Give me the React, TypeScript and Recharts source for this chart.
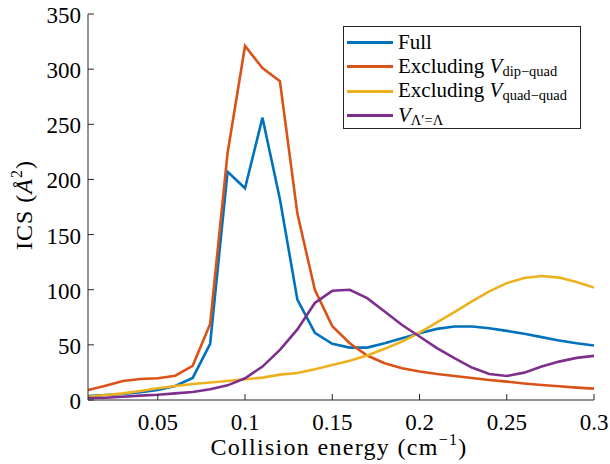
import { LineChart, Line, XAxis, YAxis, Legend } from 'recharts'

const energy = [0.01, 0.02, 0.03, 0.04, 0.05, 0.06, 0.07, 0.08, 0.09, 0.1, 0.11, 0.12, 0.13, 0.14, 0.15, 0.16, 0.17, 0.18, 0.19, 0.2, 0.21, 0.22, 0.23, 0.24, 0.25, 0.26, 0.27, 0.28, 0.29, 0.3]
const full = [3.6, 4.5, 5.5, 7, 9, 12.7, 20, 51, 207, 192, 256, 182, 91, 61, 51, 47.5, 47.5, 51.5, 56, 60.6, 64.5, 66.7, 66.7, 65, 62.7, 60, 57, 54, 51.5, 49.4]
const noDipQuad = [9, 13, 17.3, 19, 19.7, 22, 31, 69, 224, 321, 301, 289, 169, 100, 67, 51.5, 40.3, 33.3, 28.8, 25.8, 23.6, 21.8, 20, 18.2, 16.7, 15, 13.6, 12.4, 11.2, 10.3]
const noQuadQuad = [3, 4.5, 6, 8.2, 10.6, 12.7, 14.5, 15.8, 17.3, 18.8, 20.3, 23, 24.5, 27.9, 31.8, 35.5, 40.3, 46.4, 53, 61, 70.3, 79.7, 89.4, 98.5, 106, 110.6, 112.4, 111, 107, 102]
const lambdaEq = [1.8, 2.1, 3, 4, 4.8, 6, 7.3, 9.7, 13.3, 19.7, 30.3, 45.5, 64, 88, 99, 100, 92.4, 80.3, 68, 57.6, 47, 37.9, 29.4, 23.6, 21.8, 24.8, 30.3, 34.8, 38.2, 40]

const xTicks = [0.05, 0.1, 0.15, 0.2, 0.25, 0.3]
const yTicks = [0, 50, 100, 150, 200, 250, 300, 350]

const seriesOrder = ['full', 'noDipQuad', 'noQuadQuad', 'lambdaEq']

const data = energy.map((e, i) => ({
    energy: e,
    full: full[i],
    noDipQuad: noDipQuad[i],
    noQuadQuad: noQuadQuad[i],
    lambdaEq: lambdaEq[i],
}))

const FONT = '"Liberation Serif", "DejaVu Serif", serif'
const AXIS = '#262626'
const TICK_LEN = 6

// plot box: left 88, right 594, top 14, bottom 400
const W = 610
const H = 464
const LEFT = 88
const TOP = 14
const RIGHT_M = 16
const BOTTOM_H = 64

function BottomTick({ x, y, payload }: any) {
    return (
        <g>
            <line x1={x} y1={y} x2={x} y2={y - TICK_LEN} stroke={AXIS} />
            <text x={x} y={y + 30} textAnchor="middle" fontFamily={FONT} fontSize={23} fill="#000">{String(payload.value)}</text>
        </g>
    )
}

function TopTick({ x, y }: any) {
    return <line x1={x} y1={y} x2={x} y2={y + TICK_LEN} stroke={AXIS} />
}

function LeftTick({ x, y, payload }: any) {
    return (
        <g>
            <line x1={x} y1={y} x2={x + TICK_LEN} y2={y} stroke={AXIS} />
            <text x={x - 7} y={y + 9} textAnchor="end" fontFamily={FONT} fontSize={23} fill="#000">{String(payload.value)}</text>
        </g>
    )
}

function RightTick({ x, y }: any) {
    return <line x1={x} y1={y} x2={x - TICK_LEN} y2={y} stroke={AXIS} />
}

const xTitle = () => (
    <text x={LEFT + (W - RIGHT_M - LEFT) / 2 - 2} y={455} textAnchor="middle" fontFamily={FONT} fontSize={24} letterSpacing={1.3} fill="#000">
        Collision energy (cm<tspan dy={-10} fontSize={16}>−1</tspan><tspan dy={10}>)</tspan>
    </text>
)

const yTitle = () => {
    const cy = 205
    return (
        <text x={32} y={cy} transform={`rotate(-90 32 ${cy})`} textAnchor="middle" fontFamily={FONT} fontSize={24} letterSpacing={1} fill="#000">
            ICS (<tspan fontStyle="italic">Å</tspan><tspan dy={-10} fontSize={16}>2</tspan><tspan dy={10}>)</tspan>
        </text>
    )
}

const SUB = { fontSize: 14.5, verticalAlign: -3, lineHeight: 1 }

const LABELS: Record<string, any> = {
    full: 'Full',
    noDipQuad: <>Excluding <i>V</i><sub style={SUB}>dip−quad</sub></>,
    noQuadQuad: <>Excluding <i>V</i><sub style={SUB}>quad−quad</sub></>,
    lambdaEq: <><i>V</i><sub style={SUB}>Λ′=Λ</sub></>,
}

function LegendBox({ payload }: any) {
    const items = [...(payload || [])].sort((a: any, b: any) => seriesOrder.indexOf(a.dataKey) - seriesOrder.indexOf(b.dataKey))
    return (
        <div>
            {items.map((p: any) => (
                <div key={p.dataKey} style={{ display: 'flex', alignItems: 'center', height: 24.5, whiteSpace: 'nowrap', overflow: 'visible' }}>
                    <div style={{ width: 46, height: 2.6, background: p.color, marginRight: 5, flexShrink: 0 }} />
                    <span style={{ lineHeight: 1, fontFamily: FONT, fontSize: 21, color: '#000' }}>{LABELS[p.dataKey]}</span>
                </div>
            ))}
        </div>
    )
}

export default function App() {
    return (
        <div style={{ position: 'absolute', left: 0, top: 0, width: W, height: H, background: '#fff' }}>
            <LineChart width={W} height={H} data={data} margin={{ top: TOP, right: RIGHT_M, bottom: 0, left: 0 }}>
                <XAxis
                    dataKey="energy"
                    type="number"
                    domain={[0.01, 0.3]}
                    ticks={xTicks}
                    allowDataOverflow
                    height={BOTTOM_H}
                    tickSize={0}
                    tickMargin={0}
                    tickLine={false}
                    tick={BottomTick}
                    axisLine={{ stroke: AXIS }}
                    label={xTitle}
                />
                <XAxis
                    xAxisId="top"
                    orientation="top"
                    dataKey="energy"
                    type="number"
                    domain={[0.01, 0.3]}
                    ticks={xTicks}
                    allowDataOverflow
                    height={0}
                    tickSize={0}
                    tickMargin={0}
                    tickLine={false}
                    tick={TopTick}
                    axisLine={{ stroke: AXIS }}
                />
                <YAxis
                    type="number"
                    domain={[0, 350]}
                    ticks={yTicks}
                    allowDataOverflow
                    width={LEFT}
                    tickSize={0}
                    tickMargin={0}
                    tickLine={false}
                    tick={LeftTick}
                    axisLine={{ stroke: AXIS }}
                    label={yTitle}
                />
                <YAxis
                    yAxisId="right"
                    orientation="right"
                    type="number"
                    domain={[0, 350]}
                    ticks={yTicks}
                    allowDataOverflow
                    width={0}
                    tickSize={0}
                    tickMargin={0}
                    tickLine={false}
                    tick={RightTick}
                    axisLine={{ stroke: AXIS }}
                />
                <Legend
                    layout="vertical"
                    verticalAlign="middle"
                    align="center"
                    content={LegendBox}
                    wrapperStyle={{
                        left: 343,
                        top: 26,
                        width: 238,
                        height: 103,
                        boxSizing: 'border-box',
                        border: `1px solid ${AXIS}`,
                        background: '#fff',
                        padding: '3px 0 0 3px',
                    }}
                />
                <Line dataKey="full" stroke="#0072BD" strokeWidth={2.6} dot={false} isAnimationActive={false} />
                <Line dataKey="noDipQuad" stroke="#D95319" strokeWidth={2.6} dot={false} isAnimationActive={false} />
                <Line dataKey="noQuadQuad" stroke="#EDB120" strokeWidth={2.6} dot={false} isAnimationActive={false} />
                <Line dataKey="lambdaEq" stroke="#7E2F8E" strokeWidth={2.6} dot={false} isAnimationActive={false} />
            </LineChart>
        </div>
    )
}
